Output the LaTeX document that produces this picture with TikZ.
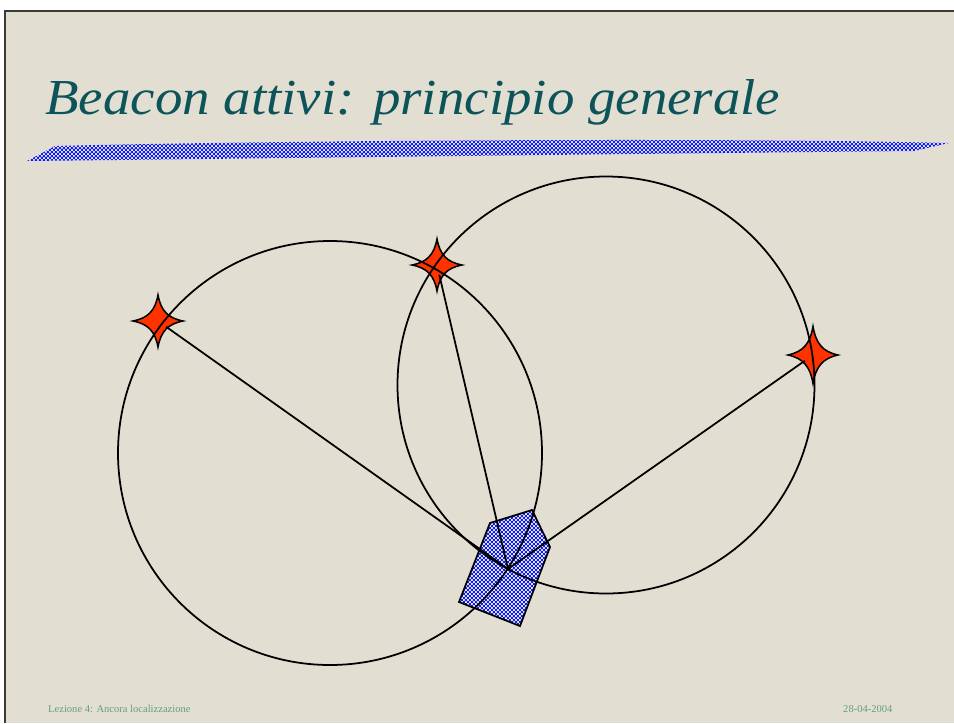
\documentclass[tikz,border=0pt]{standalone}
\usepackage{fontspec}
\usepackage{graphicx}
\setmainfont{Liberation Serif}
\usetikzlibrary{patterns}
\pgfdeclarepatternformonly{finechecks}{\pgfpointorigin}{\pgfqpoint{3.6pt}{3.6pt}}{\pgfqpoint{3.6pt}{3.6pt}}{%
  \pgfpathrectangle{\pgfpointorigin}{\pgfqpoint{2pt}{2pt}}%
  \pgfpathrectangle{\pgfqpoint{1.8pt}{1.8pt}}{\pgfqpoint{2pt}{2pt}}%
  \pgfusepath{fill}}
\definecolor{slidebg}{RGB}{226,223,210}
\definecolor{framegray}{RGB}{60,60,55}
\definecolor{titleteal}{RGB}{12,84,90}
\definecolor{footgreen}{RGB}{100,160,120}
\definecolor{starred}{RGB}{255,51,0}
\definecolor{checkblue}{RGB}{20,30,225}
\definecolor{checklight}{RGB}{225,228,252}
\tikzset{
  ring/.style={line width=1.5pt, draw=black},
  conn/.style={line width=1.5pt, draw=black, shorten >=0.3cm},
  checkfill/.style={preaction={fill=checklight}, pattern=finechecks, pattern color=checkblue},
  foottext/.style={font=\fontsize{9}{10}\selectfont, text=footgreen, inner sep=0pt},
  beaconstar/.pic={
    \filldraw[fill=starred, draw=black, line width=1.3pt]
      (0,-26) .. controls (3,-10) and (10,-3) .. (25,0)
      .. controls (10,3) and (3,10) .. (0,26)
      .. controls (-3,10) and (-10,3) .. (-25,0)
      .. controls (-10,-3) and (-3,-10) .. (0,-26) -- cycle;
  }
}
\begin{document}
\begin{tikzpicture}[x=0.03cm, y=-0.03cm]
\useasboundingbox (0,0) rectangle (954,723);
% background
\fill[white] (0,0) rectangle (954,723);
\fill[slidebg] (5,11) rectangle (954,723);
\draw[framegray, line width=1.3pt] (5,723) -- (5,11) -- (954,11);
% banner
\path[checkfill]
  (27,161) -- (55,146) .. controls (250,141) and (700,137) .. (949,143)
  -- (914,151) .. controls (700,153) and (300,158) .. (27,161) -- cycle;
% title
\node[anchor=base west, inner sep=0pt, text=titleteal,
      font=\fontsize{43}{50}\selectfont\itshape] (title) at (45,114)
  {\scalebox{1.09}[1]{Beacon attivi: principio generale}};
% coordinates
\coordinate (hub) at (508,569);
\coordinate (s1) at (158,321);
\coordinate (s2) at (437,265);
\coordinate (s3) at (813,355);
\coordinate (cL) at (330,453);
\coordinate (cR) at (606,385);
% receiver
\draw[line width=1.5pt, checkfill, line join=miter]
  (490,523) -- (532,510) -- (550,547) -- (520,626) -- (459,602) -- cycle;
% beacons
\pic at (s1) {beaconstar};
\pic at (s2) {beaconstar};
\pic[yscale=1.1] at (s3) {beaconstar};
% range circles
\draw[ring] (cL) circle[radius=212];
\draw[ring] (cR) circle[radius=208.5];
% distance lines
\draw[conn] (hub) -- (s1);
\draw[conn] (hub) -- (s2);
\draw[conn] (hub) -- (s3);
% footer
\node[foottext, anchor=base west] (foot) at (48,712.7) {Lezione 4: Ancora localizzazione};
\node[foottext, anchor=base west] (date) at (843,712.7) {28-04-2004};
\end{tikzpicture}
\end{document}
